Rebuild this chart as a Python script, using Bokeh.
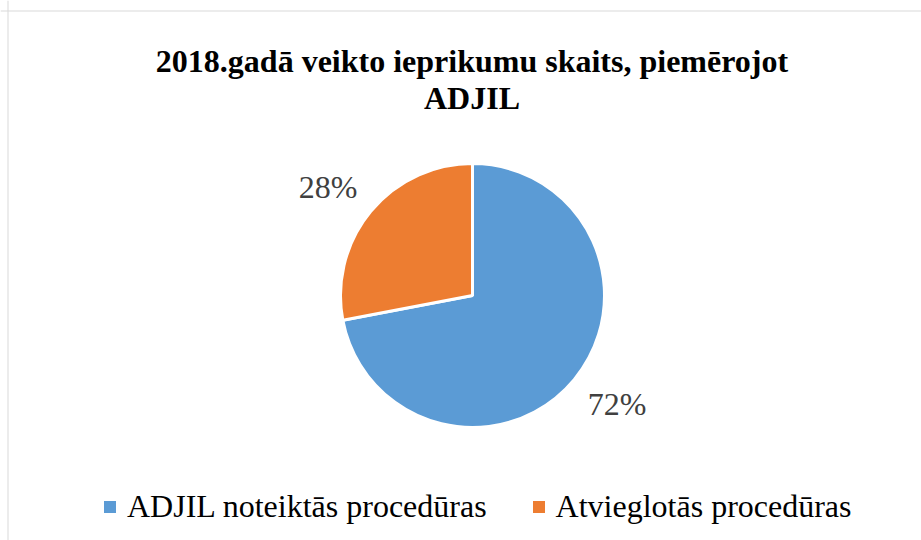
import numpy as np
from bokeh.plotting import figure
from bokeh.models import Range1d, Span, Legend, LegendItem, Label, ColumnDataSource
from bokeh.core.properties import value
from bokeh.embed import file_html
from bokeh.resources import INLINE

# ---- data ----
categories = ["ADJIL noteiktās procedūras", "Atvieglotās procedūras"]
shares = [72, 28]
colors = ["#5B9BD5", "#ED7D31"]
title_lines = ["2018.gadā veikto ieprikumu skaits, piemērojot", "ADJIL"]

W, H = 921, 540
FONT = "Liberation Serif"

p = figure(width=W, height=H, output_backend="svg", toolbar_location=None,
           x_range=Range1d(0, W), y_range=Range1d(0, H),
           x_axis_type=None, y_axis_type=None,
           min_border_left=0, min_border_right=0, min_border_top=0, min_border_bottom=0)
p.grid.visible = False
p.outline_line_color = None
p.background_fill_color = "white"
p.border_fill_color = "white"

# chart area border (light grey), partially visible like the cropped reference
p.add_layout(Span(location=7.5, dimension="height", line_color="#d9d9d9", line_width=1))
p.add_layout(Span(location=H - 10.5, dimension="width", line_color="#d9d9d9", line_width=1))

# ---- pie ----
cx, cy, r = 472, 245, 132
vals = np.array(shares, dtype=float)
frac = vals / vals.sum()
cum = np.cumsum(frac) * 2 * np.pi
starts = np.pi / 2 - np.concatenate([[0.0], cum[:-1]])
ends = np.pi / 2 - cum
src = ColumnDataSource(dict(start=starts, end=ends, color=colors, cat=categories))
p.wedge(x=cx, y=cy, radius=r, start_angle="start", end_angle="end", direction="clock",
        fill_color="color", line_color="white", line_width=3, source=src)

# data labels (outside end: anchor distance + half label box along the direction)
mid = (starts + ends) / 2
anchor = r + 28
half_w, half_h = 27.5, 11
lab_src = ColumnDataSource(dict(x=cx + (anchor + half_w) * np.cos(mid),
                                y=cy + (anchor + half_h) * np.sin(mid),
                                txt=[f"{int(v)}%" for v in shares]))
p.text(x="x", y="y", text="txt", source=lab_src, text_align="center", text_baseline="middle",
       text_font=value(FONT), text_font_size="32px", text_color="#404040")

# title
for i, line in enumerate(title_lines):
    p.add_layout(Label(x=471.5, y=480 - 37 * i, text=line, text_align="center",
                       text_baseline="alphabetic", text_font=FONT, text_font_size="32px",
                       text_font_style="bold", text_color="black"))

# legend (square swatches)
items = []
for cat, col in zip(categories, colors):
    rr = p.rect(x=[np.nan], y=[np.nan], width=1, height=1, fill_color=col, line_color=None)
    items.append(LegendItem(label=cat, renderers=[rr]))
legend = Legend(items=items, orientation="horizontal", location=(102, 15),
                glyph_width=15, glyph_height=15, label_standoff=10, spacing=44,
                padding=0, margin=0, border_line_color=None, background_fill_alpha=0,
                label_text_font=FONT, label_text_font_size="32px", label_text_color="black")
p.add_layout(legend)

open("out.html", "w").write(file_html(p, INLINE))
